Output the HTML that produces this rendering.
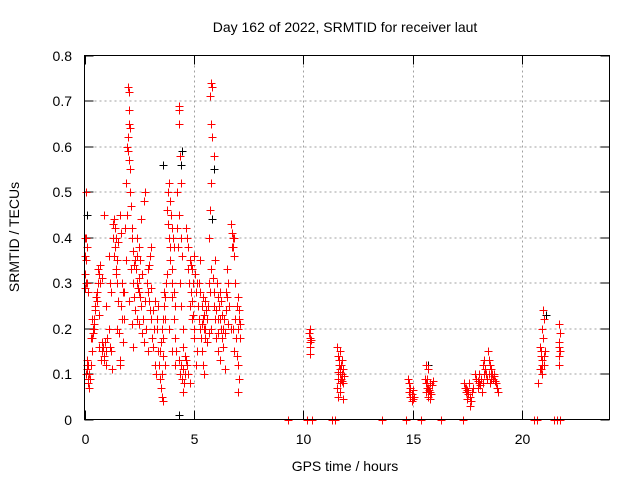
<!DOCTYPE html>
<html><head><meta charset="utf-8"><style>
body{margin:0;background:#fff;}
svg text{font-family:"Liberation Sans",sans-serif;fill:#000;}
</style></head><body>
<svg id="chart" width="640" height="480" viewBox="0 0 640 480" xmlns="http://www.w3.org/2000/svg">
<rect width="640" height="480" fill="#fff"/>
<text x="345" y="32" font-size="14" text-anchor="middle">Day 162 of 2022, SRMTID for receiver laut</text>
<g id="grid"></g>
<g id="ticks"></g>
<g id="black"></g>
<g id="red"></g>
<rect x="84.5" y="55.5" width="525" height="364" fill="none" stroke="#000" stroke-width="1"/>
<text x="345" y="471" font-size="14" text-anchor="middle">GPS time / hours</text>
<text transform="translate(19,237) rotate(-90)" font-size="14" text-anchor="middle">SRMTID / TECUs</text>
</svg>
<script>
const xTicks=[0,5,10,15,20];
const yTicks=[0,0.1,0.2,0.3,0.4,0.5,0.6,0.7,0.8];
const yTickLabels=["0","0.1","0.2","0.3","0.4","0.5","0.6","0.7","0.8"];
const blackPoints=[[0.1,0.45],[2.1,0.5],[3.6,0.56],[4.4,0.56],[4.45,0.59],[4.3,0.01],[5.85,0.44],[5.9,0.55],[15.7,0.12],[21.1,0.23]];
const redEarly=[
[0.05,0.5],[0.08,0.4],[0.1,0.38],[0.06,0.35],[0.12,0.3],[0.04,0.29],[0.15,0.28],[0.1,0.13],[0.14,0.12],[0.08,0.1],[0.18,0.09],[0.2,0.1],[0.16,0.08],[0.22,0.07],[0.12,0.11],[0.25,0.09],
[0.32,0.15],[0.35,0.18],[0.38,0.2],[0.42,0.21],[0.45,0.22],[0.48,0.24],[0.5,0.25],[0.4,0.19],[0.44,0.2],[0.55,0.28],[0.6,0.3],[0.62,0.33],[0.66,0.32],[0.58,0.26],[0.64,0.23],[0.68,0.16],
[0.75,0.13],[0.8,0.15],[0.85,0.16],[0.9,0.14],[0.95,0.17],[1.0,0.12],[1.05,0.18],[0.9,0.45],[1.1,0.36],[1.15,0.3],[1.2,0.28],[1.0,0.25],[1.1,0.2],[1.22,0.15],[1.25,0.11],[1.18,0.16],
[1.35,0.44],[1.4,0.42],[1.45,0.4],[1.38,0.38],[1.5,0.35],[1.55,0.39],[1.6,0.45],[1.65,0.41],[1.42,0.33],[1.7,0.3],[1.75,0.28],[1.6,0.13],[1.5,0.2],[1.68,0.25],[1.72,0.22],[1.78,0.17],
[2.0,0.73],[2.02,0.72],[2.05,0.68],[2.04,0.65],[2.06,0.64],[1.95,0.6],[2.0,0.59],[2.05,0.57],[2.1,0.5],[1.9,0.52],[2.12,0.47],[2.15,0.42],[2.18,0.4],[2.2,0.37],[2.12,0.33],[2.22,0.3],[2.05,0.26],[2.15,0.21],[2.2,0.16],
[2.3,0.35],[2.35,0.33],[2.4,0.3],[2.45,0.29],[2.5,0.28],[2.55,0.27],[2.6,0.25],[2.5,0.21],[2.65,0.19],[2.7,0.17],[2.4,0.4],[2.5,0.38],[2.6,0.44],[2.7,0.48],[2.75,0.5],
[2.85,0.3],[2.9,0.28],[2.95,0.26],[3.0,0.24],[3.05,0.22],[3.1,0.18],[3.15,0.16],[3.2,0.12],[3.25,0.1],[2.9,0.33],[3.0,0.36],[3.05,0.38],[3.3,0.2],[3.35,0.15],
[3.45,0.09],[3.5,0.07],[3.55,0.05],[3.6,0.04],[3.45,0.15],[3.5,0.17],[3.55,0.2],[3.6,0.22],[3.7,0.27],[3.72,0.3],[3.75,0.32],[3.65,0.25],[3.6,0.18],[3.7,0.12],
[3.8,0.5],[3.85,0.52],[3.9,0.48],[3.95,0.45],[4.0,0.42],[4.05,0.4],[4.1,0.38],[3.9,0.35],[4.0,0.33],[4.1,0.28],[4.15,0.25],[3.85,0.2],[4.0,0.15],[4.15,0.12]
];
const redMid=[
[4.3,0.69],[4.32,0.68],[4.3,0.65],[4.35,0.58],[4.4,0.52],[4.25,0.5],[4.3,0.45],[4.4,0.4],[4.45,0.36],[4.3,0.13],[4.4,0.12],[4.5,0.11],[4.45,0.09],[4.55,0.08],[4.5,0.06],[4.35,0.1],[4.6,0.14],
[4.7,0.4],[4.75,0.38],[4.8,0.35],[4.85,0.34],[4.9,0.33],[4.95,0.3],[5.0,0.36],[5.05,0.32],[5.1,0.28],[4.8,0.25],[4.9,0.22],[5.0,0.2],[4.7,0.12],[4.75,0.1],[4.8,0.08],[5.15,0.15],
[5.25,0.3],[5.3,0.28],[5.35,0.25],[5.4,0.22],[5.45,0.2],[5.5,0.18],[5.35,0.15],[5.4,0.12],[5.45,0.1],[5.55,0.24],[5.5,0.26],[5.3,0.35],
[5.8,0.74],[5.85,0.73],[5.75,0.71],[5.8,0.65],[5.85,0.62],[5.9,0.58],[5.8,0.52],[5.75,0.46],[5.7,0.4],[5.95,0.35],[5.7,0.3],[5.9,0.28],[5.65,0.25],[5.95,0.22],[5.8,0.2],
[6.05,0.3],[6.1,0.27],[6.15,0.25],[6.2,0.22],[6.25,0.2],[6.3,0.18],[6.35,0.16],[6.2,0.13],[6.4,0.11],[6.45,0.28],[6.5,0.33],[6.55,0.21],[6.1,0.19],
[6.7,0.43],[6.75,0.41],[6.8,0.4],[6.72,0.38],[6.85,0.36],[6.9,0.3],[7.0,0.27],[6.95,0.25],[7.05,0.22],[6.8,0.2],[7.1,0.18],[6.85,0.15],[7.0,0.12],[7.05,0.09],[7.0,0.06]
];
const redExtra=[
[0.02,0.4],[0.03,0.36],[0.0,0.32],[0.05,0.3],[0.1,0.12],[0.05,0.1],[0.3,0.12],[0.28,0.18],[0.36,0.22],[0.52,0.27],[0.7,0.3],[0.72,0.34],[0.78,0.31],[0.82,0.17],[0.88,0.13],[0.98,0.15],
[1.3,0.4],[1.32,0.43],[1.37,0.36],[1.45,0.32],[1.48,0.3],[1.52,0.26],[1.56,0.19],[1.62,0.12],[1.8,0.22],[1.82,0.28],[1.85,0.42],[1.88,0.35],[1.92,0.45],[1.97,0.62],[2.08,0.55],[2.25,0.34],
[2.28,0.27],[2.32,0.24],[2.38,0.22],[2.42,0.36],[2.48,0.31],[2.55,0.35],[2.62,0.32],[2.68,0.22],[2.78,0.26],[2.82,0.2],[2.88,0.15],[2.95,0.34],[3.05,0.29],[3.12,0.24],[3.18,0.2],[3.22,0.26],
[3.3,0.22],[3.38,0.25],[3.4,0.12],[3.52,0.1],[3.58,0.14],[3.62,0.28],[3.68,0.22],[3.78,0.46],[3.82,0.43],[3.88,0.4],[3.92,0.38],[3.98,0.3],[4.02,0.27],[4.08,0.22],[4.12,0.18],[4.2,0.15],
[4.22,0.42],[4.28,0.38],[4.38,0.3],[4.42,0.25],[4.48,0.2],[4.52,0.16],[4.58,0.1],[4.62,0.13],[4.65,0.42],[4.72,0.33],[4.78,0.3],[4.88,0.28],[4.92,0.26],[4.98,0.23],[5.02,0.18],[5.08,0.12],
[5.12,0.3],[5.18,0.25],[5.22,0.22],[5.28,0.2],[5.32,0.18],[5.38,0.21],[5.42,0.27],[5.48,0.23],[5.52,0.2],[5.58,0.17],[5.62,0.22],[5.68,0.19],[5.72,0.28],[5.78,0.33],[5.88,0.31],[5.92,0.25],
[6.0,0.24],[6.02,0.18],[6.08,0.15],[6.12,0.22],[6.18,0.28],[6.22,0.26],[6.28,0.23],[6.32,0.2],[6.38,0.22],[6.42,0.19],[6.48,0.24],[6.52,0.27],[6.58,0.3],[6.62,0.25],[6.68,0.2],[6.78,0.38],
[6.82,0.4],[6.88,0.22],[6.92,0.18],[6.98,0.14],[7.02,0.2],[7.08,0.24],[7.12,0.21]
];
const redLate=[
[10.3,0.2],[10.28,0.19],[10.32,0.18],[10.3,0.17],[10.35,0.175],[10.3,0.16],[10.33,0.145],
[11.55,0.16],[11.7,0.15],[11.6,0.14],[11.75,0.13],[11.65,0.12],[11.8,0.11],[11.6,0.105],[11.7,0.1],[11.85,0.095],[11.6,0.09],[11.75,0.085],[11.8,0.08],[11.55,0.07],[11.7,0.06],[11.6,0.05],[11.8,0.045],
[11.62,0.13],[11.68,0.11],[11.72,0.09],[11.78,0.1],[11.66,0.08],[11.74,0.12],
[14.8,0.09],[14.85,0.08],[14.9,0.07],[14.82,0.06],[14.95,0.055],[14.9,0.05],[15.0,0.045],[14.95,0.04],[15.05,0.05],[15.0,0.065],
[15.6,0.12],[15.7,0.11],[15.55,0.09],[15.8,0.08],[15.65,0.07],[15.75,0.065],[15.6,0.06],[15.85,0.055],[15.7,0.05],[15.8,0.045],[15.9,0.075],[15.95,0.085],
[15.62,0.08],[15.68,0.06],[15.72,0.07],[15.78,0.06],[15.66,0.09],
[17.35,0.08],[17.4,0.07],[17.5,0.065],[17.45,0.06],[17.55,0.055],[17.6,0.05],[17.5,0.045],[17.65,0.04],[17.6,0.03],[17.7,0.06],[17.75,0.07],
[17.45,0.07],[17.55,0.06],[17.58,0.08],[17.62,0.05],
[17.85,0.1],[17.9,0.09],[18.0,0.085],[18.05,0.08],[18.1,0.075],[18.0,0.07],[18.15,0.06],[18.2,0.12],[18.25,0.13],[18.3,0.11],[18.35,0.1],
[18.05,0.1],[18.12,0.09],[18.22,0.08],[18.28,0.1],[18.4,0.09],[18.48,0.1],[18.52,0.08],[18.58,0.1],[18.66,0.09],[18.72,0.1],
[18.45,0.15],[18.5,0.13],[18.55,0.12],[18.6,0.11],[18.65,0.1],[18.7,0.095],[18.6,0.09],[18.75,0.085],[18.8,0.08],[18.85,0.07],[18.9,0.06],
[20.95,0.24],[21.0,0.22],[20.9,0.2],[20.95,0.18],[20.8,0.16],[21.05,0.15],[20.85,0.14],[20.9,0.13],[21.0,0.12],[20.8,0.11],[20.9,0.1],[20.75,0.08],
[20.88,0.15],[20.92,0.12],[21.02,0.14],[20.85,0.11],
[21.7,0.21],[21.72,0.19],[21.68,0.17],[21.7,0.16],[21.75,0.15],[21.7,0.14],[21.68,0.12]
];
const redZero=[[9.3,0],[10.15,0],[10.4,0],[11.3,0],[11.45,0],[13.6,0],[14.7,0],[15.4,0],[16.3,0],[17.3,0],[20.55,0],[20.7,0],[21.45,0],[21.6,0],[21.75,0]];
const X=t=>84.5+t*(525/24);
const Y=v=>419.5-v*(364/0.8);
const NS="http://www.w3.org/2000/svg";
const grid=document.getElementById('grid'),ticks=document.getElementById('ticks');
function line(g,x1,y1,x2,y2,st,dash){const l=document.createElementNS(NS,'line');l.setAttribute('x1',x1);l.setAttribute('y1',y1);l.setAttribute('x2',x2);l.setAttribute('y2',y2);l.setAttribute('stroke',st);if(dash)l.setAttribute('stroke-dasharray',dash);g.appendChild(l);return l;}
yTicks.forEach((v,i)=>{const y=Math.round(Y(v));
 if(v>0&&v<0.8){const g=line(grid,84.5,y,609.5,y,'#a0a0a0','2,3');
 
 }
 line(ticks,84.5,y,93.5,y,'#000');line(ticks,600.5,y,609.5,y,'#000');
 const t=document.createElementNS(NS,'text');t.setAttribute('x',72);t.setAttribute('y',y+5);t.setAttribute('font-size','14');t.setAttribute('text-anchor','end');t.textContent=yTickLabels[i];
 
 
 ticks.appendChild(t);});
xTicks.forEach(v=>{const x=Math.round(X(v))+0.5;
 if(v>0){const g=line(grid,x,55.5,x,419.5,'#a0a0a0','2,3');
 
 }
 line(ticks,x,419.5,x,410.5,'#000');line(ticks,x,55.5,x,64.5,'#000');
 const t=document.createElementNS(NS,'text');t.setAttribute('x',x);t.setAttribute('y',444);t.setAttribute('font-size','14');t.setAttribute('text-anchor','middle');t.textContent=String(v);
 
 
 ticks.appendChild(t);});
function plus(g,t,v,c,name){const x=Math.round(X(t))+0.5,y=Math.round(Y(v))+0.5;const p=document.createElementNS(NS,'path');
 p.setAttribute('d',`M${x-4} ${y}H${x+4}M${x} ${y-4}V${y+4}`);p.setAttribute('stroke',c);p.setAttribute('fill','none');
 
 
 g.appendChild(p);}
const blackG=document.getElementById('black'),redG=document.getElementById('red');
blackPoints.forEach(p=>plus(blackG,p[0],p[1],'#000','black-point'));
[redEarly,redMid,redExtra,redLate,redZero].forEach(arr=>arr.forEach(p=>plus(redG,p[0],p[1],'#ff0000','red-point')));
</script>
</body></html>
